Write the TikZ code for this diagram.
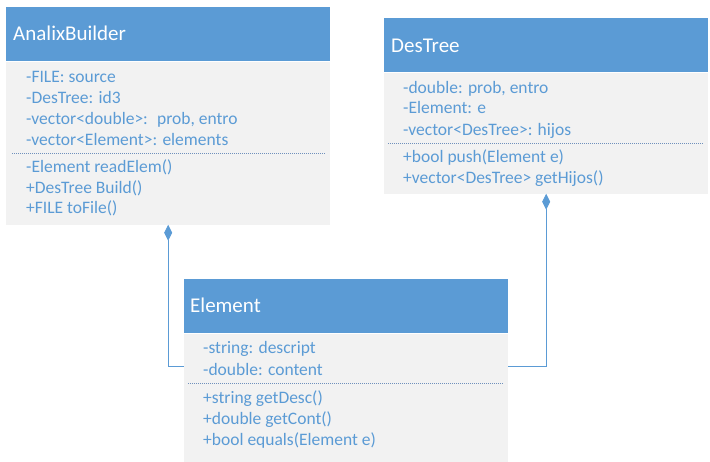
\documentclass[tikz,border=0pt]{standalone}
\usepackage{fontspec}
\setmainfont{Carlito}
\usetikzlibrary{arrows.meta}
\definecolor{umlblue}{HTML}{5B9BD5}
\definecolor{umlbody}{HTML}{F2F2F2}
\definecolor{umlsep}{HTML}{6F90BC}

\begin{document}
\begin{tikzpicture}[x=1pt, y=-1pt,
  head/.style = {fill=umlblue, minimum width=324pt, minimum height=54pt,
    inner sep=0pt, anchor=north west},
  body/.style = {fill=umlbody, minimum width=324pt, inner sep=0pt, anchor=north west},
  line/.style = {anchor=base west, inner sep=0pt, text=umlblue, font=\fontsize{17.5}{21}\selectfont},
  title/.style = {anchor=base west, inner sep=0pt, text=white, font=\fontsize{21}{25}\selectfont},
  sep/.style = {umlsep, line width=0.7pt, dash pattern=on 1pt off 1pt},
  owns/.style = {draw=umlblue, line width=0.9pt, {Diamond[length=16pt, width=8pt, fill=umlblue]}-}]
\useasboundingbox (0,0) rectangle (710,461);

% AnalixBuilder
\node[head] (ab) at (6,7) {};
\node[title] (abt) at (13,40) {AnalixBuilder};
\node[body, minimum height=163pt] (abb) at (ab.south west) {};
\node[line] (ab1) at (26,82) {-FILE: source};
\node[line] (ab2) at (26,103) {-DesTree: id3};
\node[line] (ab3) at (26,124) {-vector<double>:~ prob, entro};
\node[line] (ab4) at (26,145.5) {-vector<Element>: elements};
\draw[sep] (12,153) -- (325,153);
\node[line] (ab5) at (26,172) {-Element readElem()};
\node[line] (ab6) at (26,193) {+DesTree Build()};
\node[line] (ab7) at (26,213.5) {+FILE toFile()};

% DesTree
\node[head] (dt) at (384,18) {};
\node[title] (dtt) at (391,52) {DesTree};
\node[body, minimum height=121pt] (dtb) at (dt.south west) {};
\node[line] (dt1) at (403,93) {-double: prob, entro};
\node[line] (dt2) at (403,113.5) {-Element: e};
\node[line] (dt3) at (403,135) {-vector<DesTree>: hijos};
\draw[sep] (388,143.3) -- (703,143.3);
\node[line] (dt4) at (403,162) {+bool push(Element e)};
\node[line] (dt5) at (403,183) {+vector<DesTree> getHijos()};

% Element
\node[head] (el) at (184,279) {};
\node[title] (elt) at (190,312) {Element};
\node[body, minimum height=128pt] (elb) at (el.south west) {};
\node[line] (el1) at (203,353) {-string: descript};
\node[line] (el2) at (203,375) {-double: content};
\draw[sep] (188,383) -- (503,383);
\node[line] (el3) at (203,403) {+string getDesc()};
\node[line] (el4) at (203,424) {+double getCont()};
\node[line] (el5) at (203,445) {+bool equals(Element e)};

% composition
\coordinate (ell) at ([yshift=-33pt]elb.north west);
\coordinate (elr) at ([yshift=-33pt]elb.north east);
\draw[owns] (abb.south) |- (ell);
\draw[owns] (dtb.south) |- (elr);
\end{tikzpicture}
\end{document}
